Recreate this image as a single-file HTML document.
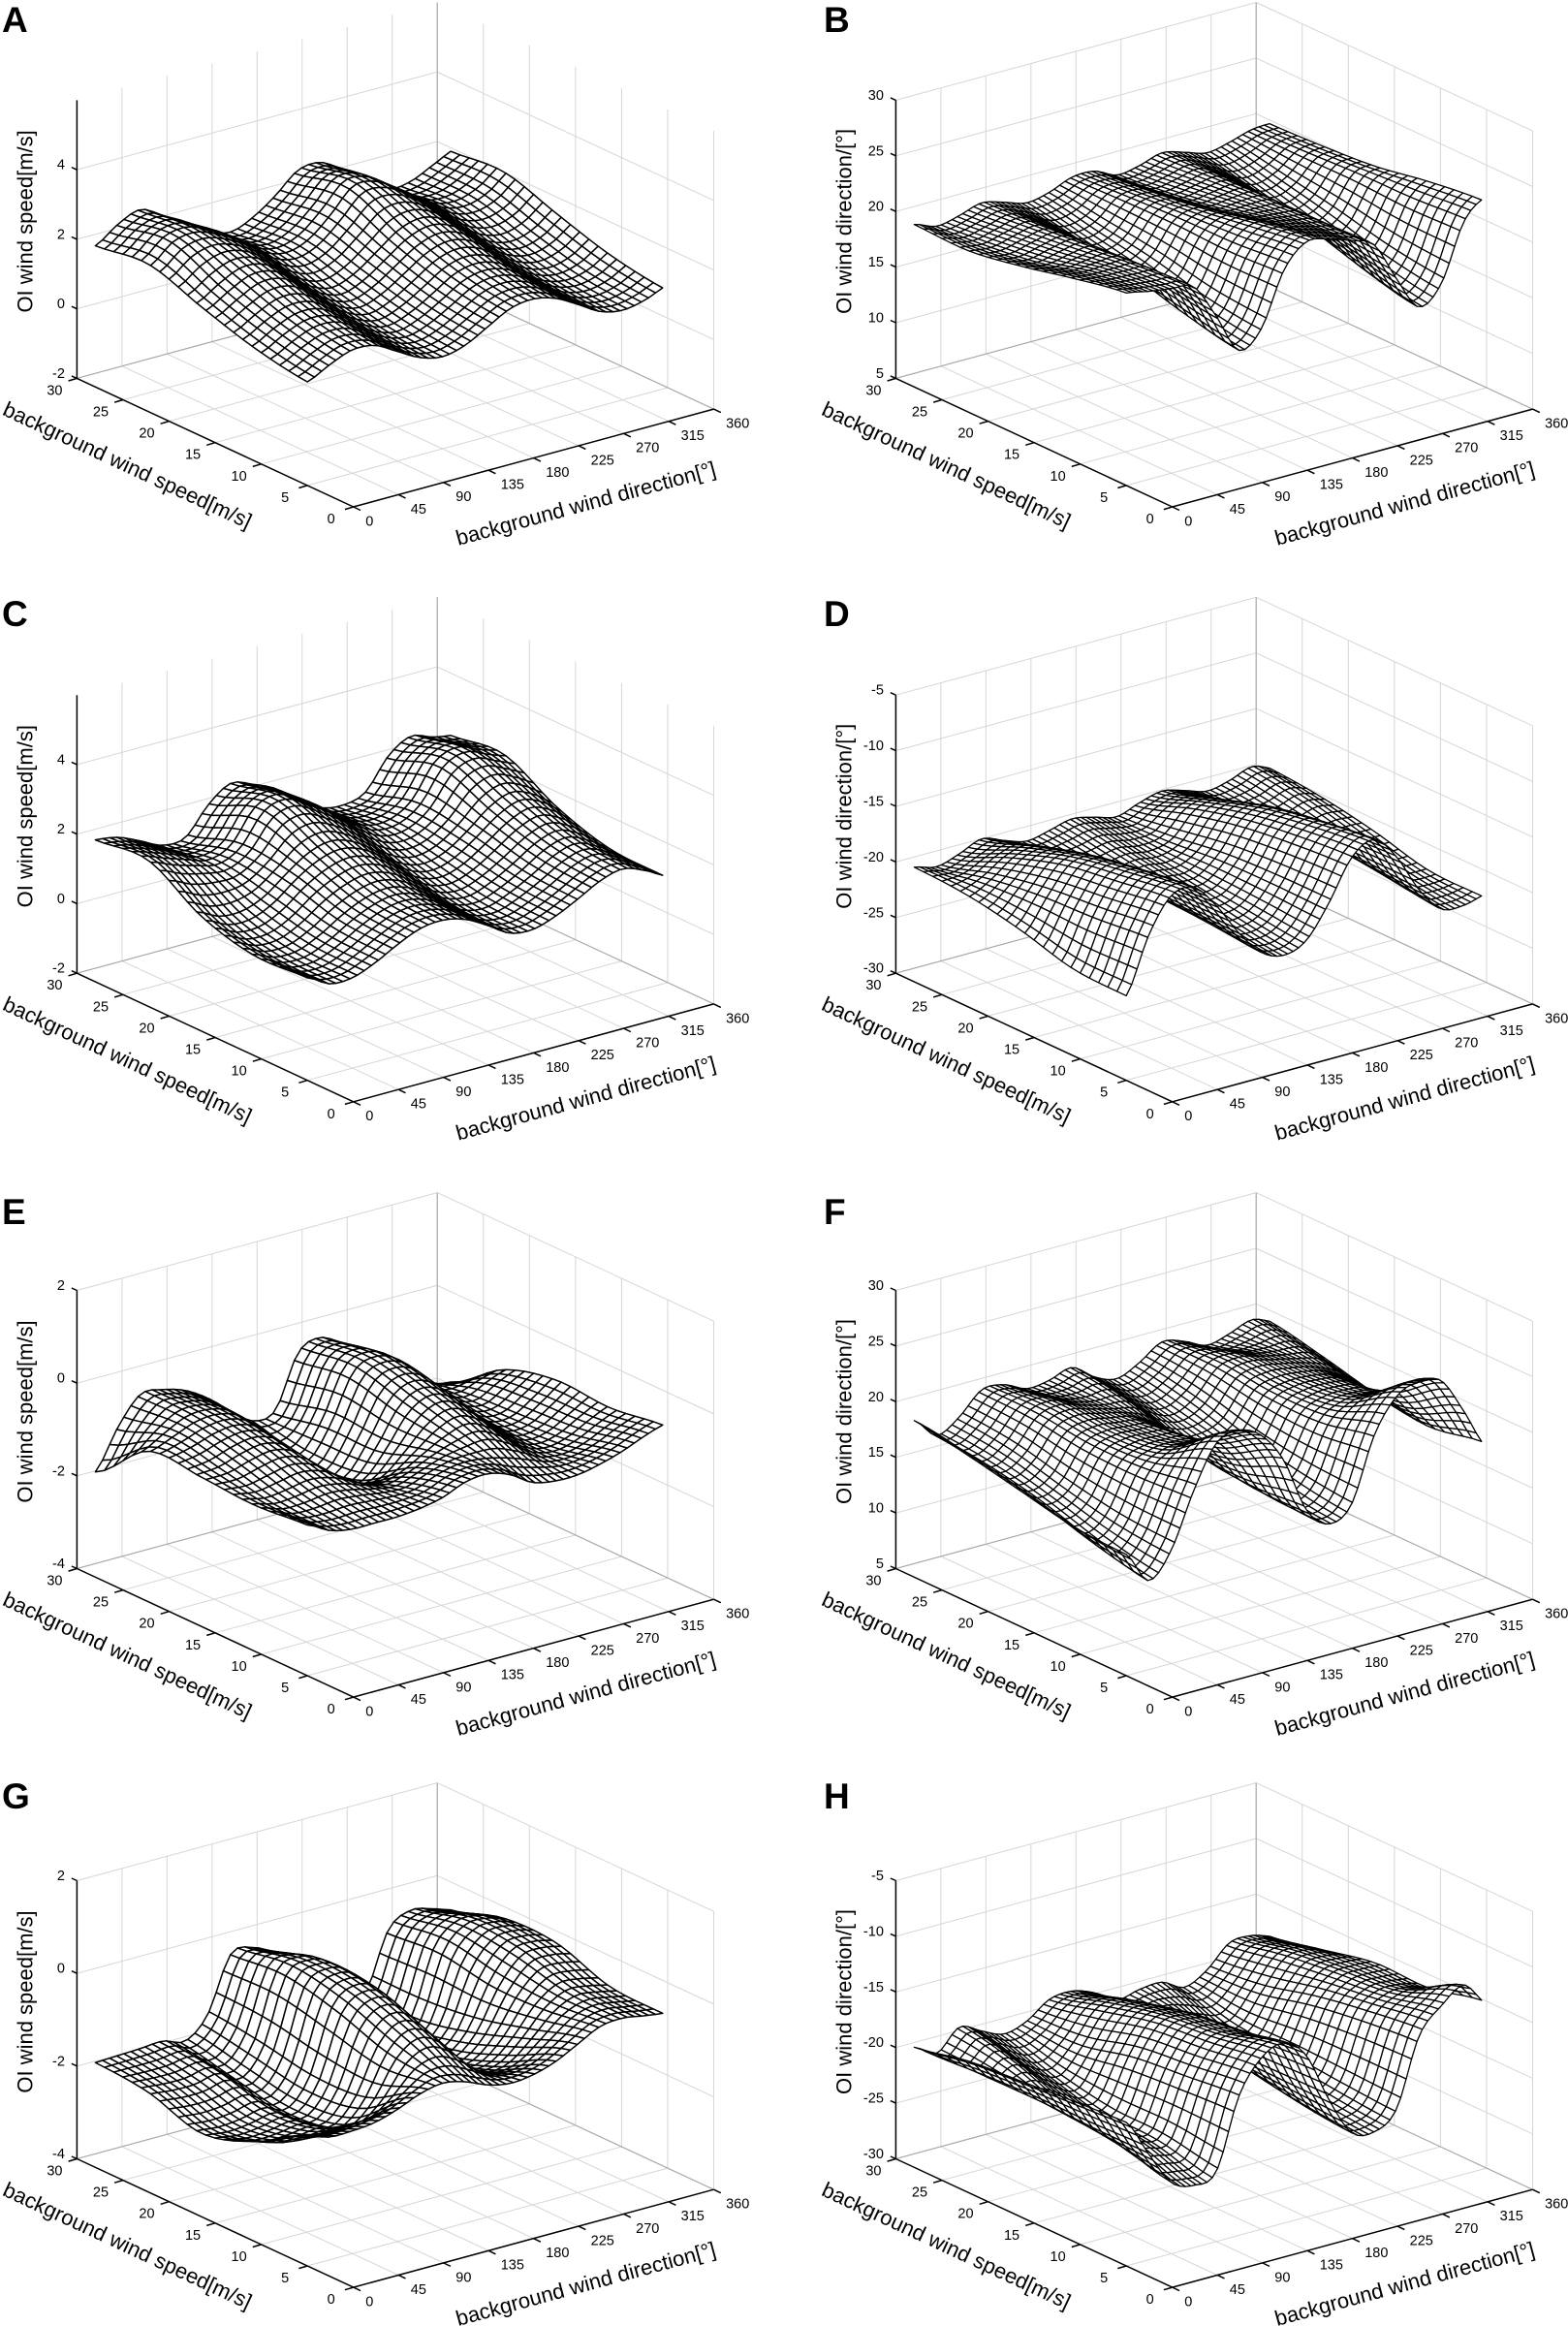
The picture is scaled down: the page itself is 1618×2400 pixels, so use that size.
<!DOCTYPE html>
<html lang="en">
<head>
<meta charset="utf-8">
<title>OI wind speed and direction surfaces</title>
<style>
html,body{margin:0;padding:0;background:#fff;}
svg{display:block;}
text{font-family:"Liberation Sans",Arial,sans-serif;fill:#000;}
</style>
</head>
<body>
<svg id="figure" xmlns="http://www.w3.org/2000/svg" width="1618" height="2400" viewBox="0 0 1618 2400"></svg>
<script>
const speedKnots = [5, 10.75, 16.5, 22.25, 28];
const dirKnots = [0, 22.5, 45, 67.5, 90, 112.5, 135, 157.5, 180, 202.5, 225, 247.5, 270, 292.5, 315, 337.5, 360];
const speedTicks = [0, 5, 10, 15, 20, 25, 30];
const dirTicks = [0, 45, 90, 135, 180, 225, 270, 315, 360];
const zTicksSpeedHigh = [-2, 0, 2, 4];
const zTicksSpeedLow = [-4, -2, 0, 2];
const zTicksDirPos = [5, 10, 15, 20, 25, 30];
const zTicksDirNeg = [-30, -25, -20, -15, -10, -5];

const surfaceA = [
[.98,1.3,1.55,1.5,1.15,.8,.65,.8,1.15,1.5,1.6,1.45,1.1,.72,.58,.7,.95],
[1.25,1.6,1.85,1.8,1.4,.98,.78,.98,1.35,1.75,1.88,1.7,1.25,.85,.7,.85,1.22],
[1.72,2.1,2.4,2.32,1.85,1.35,1.12,1.35,1.8,2.25,2.42,2.2,1.68,1.22,1.05,1.25,1.7],
[2.24,2.75,2.85,2.6,2.25,1.75,1.55,1.75,2.3,2.95,2.9,2.5,2.05,1.62,1.5,1.72,2.2],
[2.06,2.5,2.75,2.4,2.05,1.6,1.4,1.65,2.1,2.65,2.7,2.3,1.85,1.4,1.45,1.75,2.05]
];
const surfaceB = [
[22.3,21.9,21.6,21.2,18.0,14.4,15.8,20.5,22.5,22.2,21.5,20.6,17.0,13.9,15.5,20.5,22.2],
[21.4,21.2,21.2,21.0,18.6,15.4,16.4,20.2,21.8,21.5,21.1,20.5,17.8,15.0,16.2,20.2,21.6],
[20.3,20.0,20.4,20.6,19.0,16.9,17.6,20.3,21.0,20.4,20.5,20.4,18.6,16.6,17.4,20.2,20.6],
[19.5,19.3,19.8,20.2,19.2,17.9,18.4,20.2,20.4,19.6,19.9,20.2,19.1,17.8,18.4,20.0,20.2],
[19.6,18.9,19.3,19.9,19.4,18.8,19.2,20.0,20.0,19.1,19.4,20.0,19.5,18.9,19.3,19.9,20.0]
];
const surfaceC = [
[.95,.6,.6,.85,1.2,1.48,1.55,1.4,1.05,.65,.58,.78,1.1,1.45,1.62,1.4,1.07],
[.88,.62,.62,.9,1.3,1.6,1.72,1.55,1.15,.72,.62,.85,1.2,1.6,1.78,1.5,1.12],
[1.3,1.0,.98,1.25,1.75,2.15,2.3,2.1,1.65,1.15,.95,1.12,1.55,2.05,2.3,2.05,1.6],
[2.2,1.95,1.75,1.6,1.9,2.75,2.95,2.6,2.2,1.7,1.35,1.35,1.75,2.65,2.9,2.65,2.45],
[2.08,1.98,1.7,1.4,1.45,2.2,2.65,2.45,2.15,1.65,1.25,1.15,1.35,2.2,2.6,2.4,2.3]
];
const surfaceD = [
[-22.4,-17.5,-14.5,-14.3,-16.5,-19.5,-21.8,-22.6,-21.8,-19,-15.5,-14.4,-16.5,-20,-22.3,-22.5,-22],
[-22.2,-18,-15.2,-14.9,-16.8,-19.5,-21.3,-21.9,-21.3,-19,-15.9,-15,-16.8,-19.8,-21.6,-22,-22],
[-20.9,-18.3,-16.0,-15.8,-17.2,-19.6,-20.8,-20.8,-20.8,-19.2,-16.6,-15.9,-17.2,-19.6,-20.8,-20.8,-20.8],
[-20,-19,-17.6,-17.2,-18.4,-20,-20.3,-20,-20.3,-19.8,-17.8,-17.4,-18.4,-20,-20.2,-19.6,-20],
[-19.7,-20.2,-19.6,-18.8,-19.5,-20.1,-19.7,-19.2,-19.6,-20.1,-19.4,-18.9,-19.4,-20,-19.6,-18.9,-19.6]
];
const surfaceE = [
[-.75,-1.0,-1.1,-1.1,-1.1,-1.05,-.95,-.75,-.7,-.85,-1.15,-1.25,-1.25,-1.15,-1.0,-.8,-.65],
[-.85,-.98,-.95,-.88,-.95,-1.1,-1.2,-1.05,-.85,-.7,-.62,-.85,-1.2,-1.35,-1.25,-1.0,-.8],
[-.78,-.75,-.6,-.52,-.7,-1.2,-1.7,-1.75,-1.2,-.5,-.25,-.45,-.95,-1.35,-1.35,-1.05,-.72],
[-.75,-.55,-.35,-.32,-.5,-1.0,-1.65,-1.85,-1.2,-.2,0,-.2,-.75,-1.2,-1.4,-1.2,-1.05],
[-1.73,-.9,-.32,-.35,-.5,-.8,-1.2,-1.55,-1.45,-.35,-.15,-.45,-.9,-1.2,-1.5,-1.8,-1.88]
];
const surfaceF = [
[15.9,13.0,15.2,20,23.7,24.3,23.3,20.5,15.5,13.7,14.9,20.5,23.5,24.3,23.8,20.5,16.8],
[16.2,14.2,15.6,19.5,20.8,21,20.6,18.3,15.3,14.3,15.5,19.5,20.8,21,20.6,18.3,16.2],
[17.2,15.7,16.6,19.5,20.2,20.1,19.8,18,16,15.9,16.6,19.5,20.2,20.2,19.8,18.5,17],
[18.2,16.7,17.8,20.1,20.6,20,19.5,19.3,17.8,17,18,20.1,20.5,20,19.6,19.3,18.2],
[19.07,17.2,18.3,20.2,20.1,19.2,19.4,20,18.6,17.9,18.8,20.1,19.6,18.7,19.2,19.9,19.2]
];
const surfaceG = [
[-1.2,-1.35,-1.35,-1.3,-1.15,-.95,-.85,-.95,-1.15,-1.25,-1.2,-1.05,-.8,-.55,-.5,-.58,-.64],
[-1.85,-2.0,-2.0,-1.95,-2.05,-1.6,-.75,-.4,-.65,-1.3,-1.65,-1.6,-1.2,-.7,-.45,-.5,-.6],
[-2.2,-2.25,-2.2,-2.1,-2.25,-1.7,-.35,0,-.2,-1.0,-1.85,-2.0,-1.6,-.7,-.15,-.1,-.2],
[-1.85,-1.9,-1.9,-1.8,-2.05,-1.5,-.1,.1,-.1,-.85,-1.75,-2.05,-1.85,-.5,-.05,-.05,-.2],
[-1.74,-1.72,-1.7,-1.67,-1.8,-1.35,-.2,-.18,-.45,-.95,-1.5,-1.75,-1.8,-.6,-.3,-.4,-.55]
];
const surfaceH = [
[-17.1,-20.5,-23.6,-24.4,-23.7,-17.5,-14.6,-13.8,-15.5,-20,-23.5,-24,-22.5,-16.5,-14.3,-13,-15.2],
[-17.4,-20.5,-22.2,-22.8,-22.8,-18,-15.3,-15,-16,-20,-23,-23.5,-22.2,-17,-15.5,-15.4,-16],
[-17.8,-20.3,-21.3,-22.2,-22.6,-18.5,-15.8,-15.6,-16.5,-20,-22,-22.6,-21.8,-17.8,-16,-15.8,-15.9],
[-18.2,-20.3,-19.5,-20.8,-21.6,-19.6,-17,-16.6,-17.6,-19.6,-20.2,-21.3,-21.5,-19,-16.6,-16.4,-17],
[-19.2,-20.3,-18.5,-19.4,-20.2,-19.6,-18.2,-18,-18.7,-19.9,-19.5,-19.4,-20.4,-19.4,-17.5,-17.4,-18]
];

const NS = 'http://www.w3.org/2000/svg';
const root = document.getElementById('figure');

const panels = [
  {id:'a', letter:'A', col:0, base:390.4, lY:33,   zMin:-2,  zMax:6,  zTicks:zTicksSpeedHigh, zTitle:'OI wind speed[m/s]',    data:surfaceA, cells:50, lw:1.5},
  {id:'b', letter:'B', col:1, base:390.4, lY:33,   zMin:5,   zMax:30, zTicks:zTicksDirPos,    zTitle:'OI wind direction/[°]', data:surfaceB, cells:66, lw:1.3},
  {id:'c', letter:'C', col:0, base:1004.2,lY:646,  zMin:-2,  zMax:6,  zTicks:zTicksSpeedHigh, zTitle:'OI wind speed[m/s]',    data:surfaceC, cells:50, lw:1.5},
  {id:'d', letter:'D', col:1, base:1004.2,lY:646,  zMin:-30, zMax:-5, zTicks:zTicksDirNeg,    zTitle:'OI wind direction/[°]', data:surfaceD, cells:66, lw:1.3},
  {id:'e', letter:'E', col:0, base:1618.5,lY:1263, zMin:-4,  zMax:2,  zTicks:zTicksSpeedLow,  zTitle:'OI wind speed[m/s]',    data:surfaceE, cells:50, lw:1.5},
  {id:'f', letter:'F', col:1, base:1618.5,lY:1263, zMin:5,   zMax:30, zTicks:zTicksDirPos,    zTitle:'OI wind direction/[°]', data:surfaceF, cells:66, lw:1.3},
  {id:'g', letter:'G', col:0, base:2227.5,lY:1866, zMin:-4,  zMax:2,  zTicks:zTicksSpeedLow,  zTitle:'OI wind speed[m/s]',    data:surfaceG, cells:50, lw:1.5},
  {id:'h', letter:'H', col:1, base:2227.5,lY:1866, zMin:-30, zMax:-5, zTicks:zTicksDirNeg,    zTitle:'OI wind direction/[°]', data:surfaceH, cells:66, lw:1.3}
];

function make(tag, attrs, parent){
  const el = document.createElementNS(NS, tag);
  for (const k in attrs) el.setAttribute(k, attrs[k]);
  parent.appendChild(el);
  return el;
}
function catmull(a, b, c, d, t){
  return .5*(2*b+(c-a)*t+(2*a-5*b+4*c-d)*t*t+(3*b-a-3*c+d)*t*t*t);
}
function rowAt(row, d){
  const step = dirKnots[1]-dirKnots[0];
  const v = d/step;
  const i = Math.min(Math.floor(v), row.length-2);
  const g = k => row[Math.max(0, Math.min(row.length-1, k))];
  return catmull(g(i-1), g(i), g(i+1), g(i+2), v-i);
}
function surfaceAt(matrix, s, d){
  const step = speedKnots[1]-speedKnots[0];
  const u = (s-speedKnots[0])/step;
  const i = Math.min(Math.floor(u), matrix.length-2);
  const g = k => rowAt(matrix[Math.max(0, Math.min(matrix.length-1, k))], d);
  return catmull(g(i-1), g(i), g(i+1), g(i+2), u-i);
}

function drawPanel(p){
  const ox = p.col ? 845 : 0;
  const leftX = 79.4+ox, frontX = 364.7+ox, rightX = 736.5+ox;
  const leftY = p.base, frontY = p.base+132.6, rightY = p.base+31.7;
  const H = 287;
  const xOf = (s,d) => frontX + (leftX-frontX)*s/30 + (rightX-frontX)*d/360;
  const yOf = (s,d,z) => frontY + (leftY-frontY)*s/30 + (rightY-frontY)*d/360 - (z-p.zMin)/(p.zMax-p.zMin)*H;
  const pt = (s,d,z) => xOf(s,d).toFixed(2)+','+yOf(s,d,z).toFixed(2);

  const g = make('g', {}, root);
  
  

  const grid = make('g', {stroke:'#d6d6d6','stroke-width':1,fill:'none'}, g);
  
  
  const line = (par,a,b) => make('polyline', {points:a+' '+b}, par);
  dirTicks.forEach(d => {
    line(grid, pt(0,d,p.zMin), pt(30,d,p.zMin));
    line(grid, pt(30,d,p.zMin), pt(30,d,p.zMax));
  });
  speedTicks.forEach(s => {
    line(grid, pt(s,0,p.zMin), pt(s,360,p.zMin));
    line(grid, pt(s,360,p.zMin), pt(s,360,p.zMax));
  });
  p.zTicks.forEach(z => {
    line(grid, pt(30,0,z), pt(30,360,z));
    line(grid, pt(30,360,z), pt(0,360,z));
  });

  const back = make('g', {stroke:'#a8a8a8','stroke-width':1.1,fill:'none'}, g);
  
  
  line(back, pt(30,0,p.zMin), pt(30,360,p.zMin));
  line(back, pt(30,360,p.zMin), pt(0,360,p.zMin));
  line(back, pt(30,360,p.zMin), pt(30,360,p.zMax));

  const axes = make('g', {stroke:'#000','stroke-width':1.5,fill:'none'}, g);
  
  
  line(axes, pt(30,0,p.zMin), pt(0,0,p.zMin));
  line(axes, pt(0,0,p.zMin), pt(0,360,p.zMin));
  line(axes, pt(30,0,p.zMin), pt(30,0,p.zMax));

  speedTicks.forEach(s => {
    const x = xOf(s,0), y = yOf(s,0,p.zMin);
    make('line', {x1:x,y1:y,x2:x-8.8,y2:y+2.6}, axes);
    const t = make('text', {x:x-23,y:y+13,'font-size':14.5,'text-anchor':'middle','dominant-baseline':'central'}, g);
    t.textContent = s;
    
    
  });
  dirTicks.forEach(d => {
    const x = xOf(0,d), y = yOf(0,d,p.zMin);
    make('line', {x1:x,y1:y,x2:x+7.3,y2:y+3.5}, axes);
    const t = make('text', {x:x+12.6,y:y+15.4,'font-size':14.5,'text-anchor':'start','dominant-baseline':'central'}, g);
    t.textContent = d;
    
    
  });
  p.zTicks.forEach(z => {
    const x = xOf(30,0), y = yOf(30,0,z);
    make('line', {x1:x,y1:y,x2:x-5.5,y2:y-2.5}, axes);
    const t = make('text', {x:x-12.5,y:y-4.5,'font-size':14.5,'text-anchor':'end','dominant-baseline':'central'}, g);
    t.textContent = z;
    
    
  });

  const mesh = make('g', {fill:'#fff',stroke:'#000','stroke-width':p.lw,'stroke-linejoin':'round'}, g);
  
  
  const nS = 23, nD = p.cells, dMax = 355, sLo = speedKnots[0], sHi = speedKnots[speedKnots.length-1];
  const sAt = j => sLo + (sHi-sLo)*j/nS;
  const dAt = i => dMax*i/nD;
  const vert = [];
  for (let j=0;j<=nS;j++){
    vert.push([]);
    for (let i=0;i<=nD;i++){
      const s = sAt(j), d = dAt(i);
      vert[j].push(pt(s,d,surfaceAt(p.data,s,d)));
    }
  }
  for (let j=nS-1;j>=0;j--){
    for (let i=nD-1;i>=0;i--){
      const q = make('polygon', {points:vert[j][i]+' '+vert[j][i+1]+' '+vert[j+1][i+1]+' '+vert[j+1][i]}, mesh);
      
      
    }
  }

  const letter = make('text', {x:p.col?850:2,y:p.lY,'font-size':37,'font-weight':'bold'}, g);
  letter.textContent = p.letter;
  
  

  const zt = make('text', {'font-size':22,'text-anchor':'middle',transform:'translate('+(leftX-46)+','+(leftY-162)+') rotate(-90)'}, g);
  zt.textContent = p.zTitle;
  
  

  const st = make('text', {'font-size':22,'text-anchor':'middle','dominant-baseline':'central',transform:'translate('+(leftX+52.2)+','+(leftY+89.5)+') rotate(25)'}, g);
  st.textContent = 'background wind speed[m/s]';
  
  

  const dt = make('text', {'font-size':22,'text-anchor':'middle','dominant-baseline':'central',transform:'translate('+(leftX+525)+','+(leftY+129)+') rotate(-15.2)'}, g);
  dt.textContent = 'background wind direction[°]';
  
  
}
panels.forEach(drawPanel);
</script>
</body>
</html>
